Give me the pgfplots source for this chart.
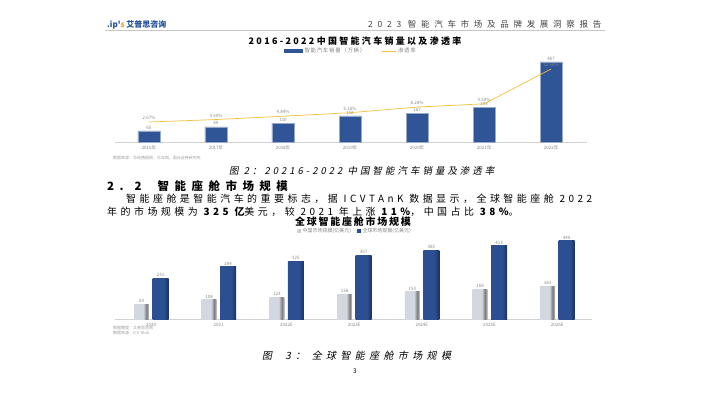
\documentclass[border=0pt]{standalone}
\usepackage{fontspec}
\setmainfont{Noto Sans CJK SC}
\newfontfamily\cjkit[FakeSlant=0.2]{Noto Sans CJK SC}
\usepackage{pgfplots}
\pgfplotsset{compat=1.18}
\definecolor{barblue}{HTML}{2F5597}
\definecolor{darkblue}{HTML}{1A3263}
\definecolor{midblue}{HTML}{2C4F91}
\definecolor{lgray}{HTML}{D3D8E0}
\definecolor{dgray}{HTML}{76787C}
\definecolor{gold}{HTML}{F4BE3A}
\definecolor{txtgray}{HTML}{858585}
\definecolor{logoblue}{HTML}{1F4E9C}
\definecolor{logoorange}{HTML}{F0A020}
\pgfdeclarehorizontalshading{graybar}{100bp}{color(0bp)=(lgray); color(25bp)=(lgray); color(56bp)=(lgray); color(67bp)=(dgray); color(72bp)=(gray!60); color(75bp)=(gray!40); color(100bp)=(gray!40)}
\pgfdeclarehorizontalshading{bluebar}{100bp}{color(0bp)=(midblue); color(25bp)=(midblue); color(60bp)=(midblue); color(75bp)=(darkblue); color(100bp)=(darkblue)}
\newcommand{\fs}[1]{\fontsize{#1}{#1}\selectfont}
\newcommand{\ls}[1]{\addfontfeature{LetterSpace=#1}}
\pgfplotsset{
  cn/.style={ybar,bar width=15bp,bar shift=-9.5bp,shading=graybar,draw=none,
    nodes near coords,nodes near coords style={font=\fs{4.5},text=txtgray,inner sep=1.5bp,xshift=-9.5bp},
    legend image code/.code={\fill[gray!55] (0bp,-1.8bp) rectangle (3.6bp,1.8bp);}},
  gl/.style={ybar,bar width=16bp,bar shift=9.5bp,shading=bluebar,draw=none,
    nodes near coords,nodes near coords style={font=\fs{4.5},text=txtgray,inner sep=1.5bp,xshift=9.5bp},
    legend image code/.code={\fill[midblue] (0bp,-1.8bp) rectangle (3.6bp,1.8bp);}}
}
\begin{document}
\begin{tikzpicture}[x=1bp,y=1bp]
\useasboundingbox (0,0) rectangle (710,399);
\coordinate (A1) at (115,257);
\coordinate (A2) at (115,80);
% header
\node[anchor=west,inner sep=0] at (107,374) {\fs{8}\bfseries\color{logoblue}.ip\textquotesingle\color{logoorange}s\ \color{logoblue}艾普思咨询};
\node[anchor=west,inner sep=0,text=black!75] at (368,375) {\fs{8.5}\ls{56}2023 智能汽车市场及品牌发展洞察报告};
\draw[gray!45,line width=0.4bp] (105,369) -- (605,369);
% chart 1 title
\node[inner sep=0] at (355,358) {\fs{9}\bfseries\ls{26}2016-2022中国智能汽车销量以及渗透率};
% chart 1
\begin{axis}[at={(A1)},anchor=south west,scale only axis,width=472bp,height=100bp,
  xmin=-0.507,xmax=6.537,ymin=0,ymax=583.75,
  axis x line=bottom,axis y line=none,x axis line style={-,draw=gray!35,line width=0.5bp},
  xtick=data,xticklabels={2016年,2017年,2018年,2019年,2020年,2021年,2022年},
  xtick style={draw=none},
  ticklabel style={font=\fs{4.5},text=txtgray,inner sep=1.5bp},
  /pgf/number format/assume math mode=true,
  legend style={at={(0.5,0.91)},anchor=center,draw=none,fill=none,legend columns=2,
    font=\fs{5.5}\addfontfeature{LetterSpace=12},text=txtgray,/tikz/every even column/.append style={column sep=14bp}},
  clip=false]
\addplot[ybar,bar width=22bp,fill=barblue,draw=barblue!50!white,line width=0.4bp,
  nodes near coords,nodes near coords style={font=\fs{4.5},text=txtgray,inner sep=1.5bp},
  legend image code/.code={\fill[barblue] (0bp,-1.3bp) rectangle (18bp,1.3bp);}]
  coordinates {(0,65) (1,89) (2,110) (3,152) (4,167) (5,204) (6,467)};
\addlegendentry{智能汽车销量（万辆）}
\addlegendimage{gold,line width=0.8bp,legend image code/.code={\draw[gold,line width=0.8bp] (0bp,0bp) -- (14bp,0bp);}}
\addlegendentry{渗透率}
\end{axis}
\begin{axis}[at={(A1)},anchor=south west,scale only axis,width=472bp,height=100bp,
  xmin=-0.507,xmax=6.537,ymin=-4.84,ymax=32.72,hide axis,clip=false,
  /pgf/number format/assume math mode=true]
\addplot[gold,line width=0.7bp,mark=none,
  nodes near coords={\pgfmathprintnumber[fixed,fixed zerofill,precision=2]{\pgfplotspointmeta}\%},
  nodes near coords style={font=\fs{4.5},text=txtgray,inner sep=2bp}]
  coordinates {(0,2.67) (1,3.60) (2,4.84) (3,6.16) (4,8.28) (5,9.50) (6,22.58)};
\end{axis}
\node[anchor=west,inner sep=0,text=txtgray!80] at (113,241) {\fs{4}数据来源：华经情报网，乐车网，国元证券研究所};
% caption 2 & text
\node[anchor=west,inner sep=0] at (229,228) {\fs{9.5}\cjkit\ls{32}图 2：20216-2022 中国智能汽车销量及渗透率};
\node[anchor=west,inner sep=0] at (107,213) {\fs{11.5}\bfseries\ls{48}2. 2\ \ 智能座舱市场规模};
\node[anchor=west,inner sep=0] at (126,200) {\fs{10}\ls{35}智能座舱是智能汽车的重要标志，据 ICVTAnK 数据显示，全球智能座舱 2022};
\node[anchor=west,inner sep=0] at (107,187) {\fs{10}\ls{35}年的市场规模为 {\bfseries 325 亿}美元，较 2021 年上涨 {\bfseries 11\%}，中国占比 {\bfseries 38\%}。};
% chart 2 title
\node[anchor=west,inner sep=0] at (295,177) {\fs{10}\bfseries\ls{18}全球智能座舱市场规模};
% chart 2
\begin{axis}[at={(A2)},anchor=south west,scale only axis,width=477bp,height=100bp,
  xmin=-0.532,xmax=6.514,ymin=0,ymax=564,
  axis x line=bottom,axis y line=none,x axis line style={-,draw=gray!35,line width=0.5bp},
  xtick={0,1,2,3,4,5,6},xticklabels={2020,2021,2022E,2023E,2024E,2025E,2026E},
  xtick style={draw=none},
  ticklabel style={font=\fs{4.5},text=txtgray,inner sep=1.5bp},
  /pgf/number format/assume math mode=true,
  legend style={at={(0.503,0.88)},anchor=center,draw=none,fill=none,legend columns=2,
    font=\fs{5},text=txtgray,/tikz/every even column/.append style={column sep=4bp}},
  clip=false]
\addplot[cn] coordinates {(0,83)};
\addlegendentry{中国市场规模(亿美元)}
\addplot[gl] coordinates {(0,231)};
\addlegendentry{全球市场规模(亿美元)}
\addplot[cn,forget plot] coordinates {(1,108)};
\addplot[cn,forget plot] coordinates {(2,123)};
\addplot[cn,forget plot] coordinates {(3,138)};
\addplot[cn,forget plot] coordinates {(4,153)};
\addplot[cn,forget plot] coordinates {(5,168)};
\addplot[cn,forget plot] coordinates {(6,183)};
\addplot[gl,forget plot] coordinates {(1,294)};
\addplot[gl,forget plot] coordinates {(2,325)};
\addplot[gl,forget plot] coordinates {(3,357)};
\addplot[gl,forget plot] coordinates {(4,385)};
\addplot[gl,forget plot] coordinates {(5,413)};
\addplot[gl,forget plot] coordinates {(6,440)};
\end{axis}
\node[anchor=west,inner sep=0,text=txtgray!80] at (113,71) {\fs{4}数据整理：艾普思咨询};
\node[anchor=west,inner sep=0,text=txtgray!80] at (113,66) {\fs{4}数据来源：ICV TAnk};
\node[anchor=west,inner sep=0] at (262,43) {\fs{10}\cjkit\ls{44}图\ \ 3：\ 全球智能座舱市场规模};
\node[inner sep=0] at (355,28) {\fs{6.5}3};
\end{tikzpicture}
\end{document}
